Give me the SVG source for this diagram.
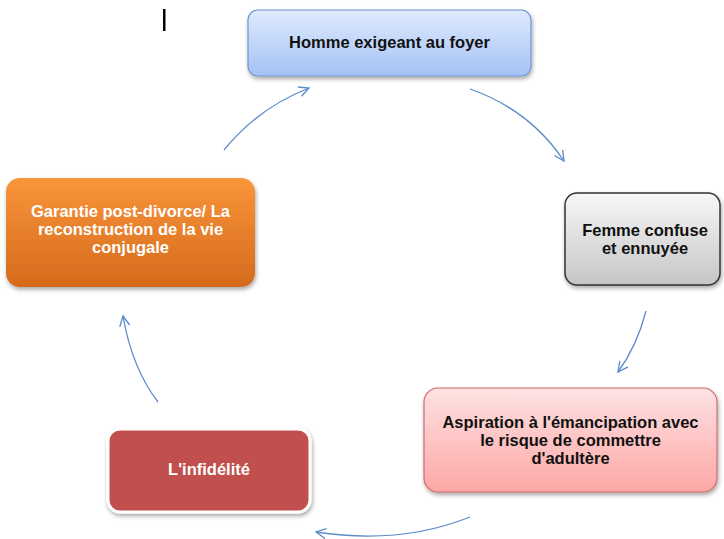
<svg xmlns="http://www.w3.org/2000/svg" width="724" height="539" viewBox="0 0 724 539">
<style>
text{font-family:"Liberation Sans",Arial,sans-serif;font-weight:bold;font-size:16.5px;text-anchor:middle}
.dark{fill:#111}
.light{fill:#fff}
.conn{fill:none;stroke:#5b8bc9;stroke-width:1.3;marker-end:url(#ah)}
</style>
<defs>
<linearGradient id="gBlue" x1="0" y1="0" x2="0" y2="1"><stop offset="0" stop-color="#dfeafd"/><stop offset="1" stop-color="#a4c2f5"/></linearGradient>
<linearGradient id="gGrey" x1="0" y1="0" x2="0" y2="1"><stop offset="0" stop-color="#f7f7f7"/><stop offset="1" stop-color="#c6c6c6"/></linearGradient>
<linearGradient id="gPink" x1="0" y1="0" x2="0" y2="1"><stop offset="0" stop-color="#fde2e2"/><stop offset="1" stop-color="#ffa7a7"/></linearGradient>
<linearGradient id="gOrange" x1="0" y1="0" x2="0" y2="1"><stop offset="0" stop-color="#f9953a"/><stop offset="1" stop-color="#d56a1c"/></linearGradient>
<filter id="sh" x="-10%" y="-10%" width="120%" height="130%"><feDropShadow dx="1" dy="2.5" stdDeviation="2" flood-color="#000" flood-opacity="0.35"/></filter>
<marker id="ah" viewBox="0 0 12 12" refX="11" refY="6" markerWidth="12" markerHeight="12" markerUnits="userSpaceOnUse" orient="auto"><path d="M1,1 L11,6 L1,11" fill="none" stroke="#5b8bc9" stroke-width="1.3"/></marker>
</defs>
<rect x="163" y="9" width="2.5" height="22" fill="#000"/>
<g id="connectors">
<path class="conn" d="M224,150 Q258,108 309,88"/>
<path class="conn" d="M470,89 Q530,110 564,161"/>
<path class="conn" d="M646,311 Q637,346 618,372"/>
<path class="conn" d="M470,517 Q400,545 316,532"/>
<path class="conn" d="M158,402 Q132,368 123,316"/>
</g>
<g id="n1">
<rect x="248" y="10" width="283" height="66" rx="10" fill="url(#gBlue)" stroke="#6f94cf" stroke-width="1.2" filter="url(#sh)"/>
<text class="dark" x="389.5" y="48">Homme exigeant au foyer</text>
</g>
<g id="n2">
<rect x="565" y="193" width="155" height="92" rx="12" fill="url(#gGrey)" stroke="#333" stroke-width="1.5" filter="url(#sh)"/>
<text class="dark" x="645" y="236">Femme confuse</text>
<text class="dark" x="645" y="254">et ennuyée</text>
</g>
<g id="n3">
<rect x="424" y="388" width="293" height="104" rx="14" fill="url(#gPink)" stroke="#d06b6b" stroke-width="1.2" filter="url(#sh)"/>
<text class="dark" x="570.5" y="428">Aspiration à l'émancipation avec</text>
<text class="dark" x="570.5" y="446">le risque de commettre</text>
<text class="dark" x="570.5" y="464">d'adultère</text>
</g>
<g id="n4">
<rect x="108" y="429" width="202" height="83" rx="12" fill="#c0504d" stroke="#fff" stroke-width="3" filter="url(#sh)"/>
<text class="light" x="209" y="475">L'infidélité</text>
</g>
<g id="n5">
<rect x="6" y="178" width="249" height="109" rx="14" fill="url(#gOrange)" filter="url(#sh)"/>
<text class="light" x="130.5" y="217">Garantie post-divorce/ La</text>
<text class="light" x="130.5" y="235">reconstruction de la vie</text>
<text class="light" x="130.5" y="253">conjugale</text>
</g>
</svg>
